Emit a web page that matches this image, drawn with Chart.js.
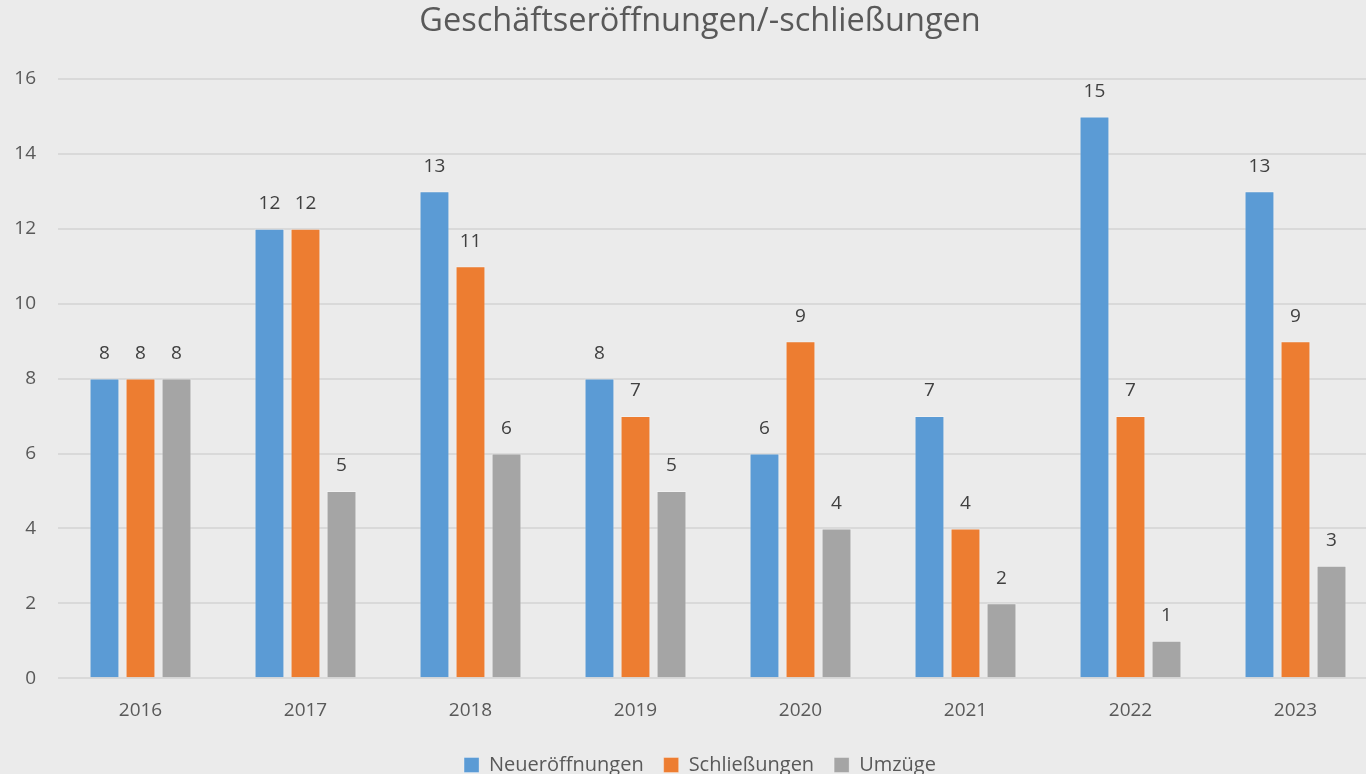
<!DOCTYPE html>
<html>
<head>
<meta charset="utf-8">
<script src="https://cdn.jsdelivr.net/npm/chart.js@4"></script>
<style>
  html, body { margin: 0; padding: 0; background: #ebebeb; overflow: hidden; }
  #wrap { width: 1400px; height: 774px; }
</style>
</head>
<body>
<div id="wrap"><canvas id="chart" width="1400" height="774"></canvas></div>
<script>
const years = ["2016", "2017", "2018", "2019", "2020", "2021", "2022", "2023"];
const openings = [8, 12, 13, 8, 6, 7, 15, 13];
const closings = [8, 12, 11, 7, 9, 4, 7, 9];
const moves = [8, 5, 6, 5, 4, 2, 1, 3];
const yTicks = [0, 2, 4, 6, 8, 10, 12, 14, 16];

const textColor = "#595959";
const fontFamily = "'Open Sans', 'Noto Sans', sans-serif";

// simple value labels above each bar
const barLabels = {
  id: "barLabels",
  afterDatasetsDraw(chart) {
    const ctx = chart.ctx;
    ctx.save();
    ctx.fillStyle = "#404040";
    ctx.font = "19px " + fontFamily;
    ctx.textAlign = "center";
    ctx.textBaseline = "middle";
    chart.data.datasets.forEach(function (ds, i) {
      const meta = chart.getDatasetMeta(i);
      meta.data.forEach(function (bar, j) {
        ctx.fillText(String(ds.data[j]), bar.x, bar.y - 25);
      });
    });
    ctx.restore();
  }
};

new Chart(document.getElementById("chart"), {
  type: "bar",
  data: {
    labels: years,
    datasets: [
      { label: "Neueröffnungen", data: openings, backgroundColor: "#5b9bd5" },
      { label: "Schließungen", data: closings, backgroundColor: "#ed7d31" },
      { label: "Umzüge", data: moves, backgroundColor: "#a5a5a5" }
    ]
  },
  options: {
    responsive: false,
    animation: false,
    layout: { padding: { left: 0, right: 0, top: 0, bottom: -11 } },
    datasets: {
      bar: {
        categoryPercentage: 0.655,
        barPercentage: 0.83,
        borderWidth: 1,
        borderColor: "rgba(255,255,255,0.3)"
      }
    },
    plugins: {
      title: {
        display: true,
        text: "Geschäftseröffnungen/-schließungen",
        color: textColor,
        font: { size: 32.5, family: fontFamily, weight: "normal" },
        padding: { top: 2, bottom: 38 }
      },
      legend: {
        position: "bottom",
        labels: {
          color: textColor,
          font: { size: 20, family: fontFamily },
          boxWidth: 15,
          boxHeight: 15,
          padding: 20
        }
      },
      tooltip: { enabled: false }
    },
    scales: {
      x: {
        grid: { display: false },
        border: { display: false },
        ticks: { color: textColor, font: { size: 19, family: fontFamily }, padding: 13 }
      },
      y: {
        min: 0,
        max: 16,
        afterBuildTicks(scale) {
          scale.ticks = yTicks.map(function (v) { return { value: v }; });
        },
        afterFit(scale) { scale.width = 58; },
        grid: { color: "#d9d9d9", lineWidth: 2, drawTicks: false },
        border: { display: false },
        ticks: { color: textColor, font: { size: 19, family: fontFamily }, padding: 22 }
      },
      // empty right-hand axis, only keeps a margin so the title stays centred
      yRight: {
        position: "right",
        grid: { display: false },
        border: { display: false },
        ticks: { display: false },
        afterFit(scale) { scale.width = 22; }
      }
    }
  },
  plugins: [barLabels]
});
</script>
</body>
</html>
